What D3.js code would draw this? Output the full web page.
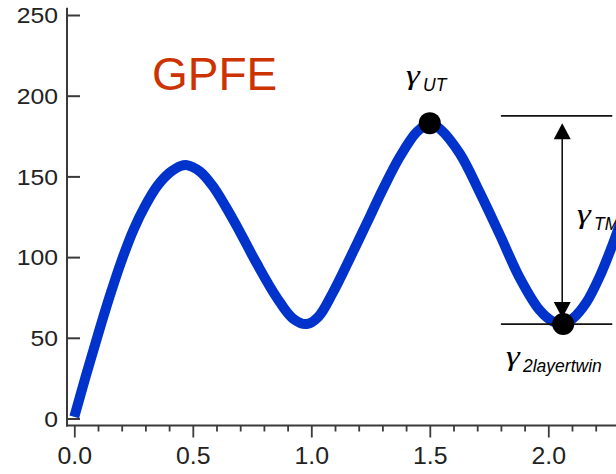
<!DOCTYPE html>
<html>
<head>
<meta charset="utf-8">
<script src="https://cdn.jsdelivr.net/npm/d3@7"></script>
<style>
  html, body { margin: 0; padding: 0; background: #fff; }
  svg { display: block; }
</style>
</head>
<body>
<svg id="chart" width="616" height="474"></svg>
<script>
// Energy profile along the twinning path
const curveX = [0.000, 0.050, 0.100, 0.150, 0.200, 0.250, 0.300, 0.350, 0.400, 0.450, 0.475,
                0.530, 0.584, 0.640, 0.690, 0.770, 0.854, 0.922, 0.981,
                1.030, 1.091, 1.162, 1.234, 1.302, 1.373, 1.445, 1.500,
                1.542, 1.627, 1.711, 1.795, 1.880, 1.964, 2.020, 2.063,
                2.104, 2.161, 2.217, 2.272, 2.330];
const curveY = [1, 27, 52, 76, 98, 117, 132, 144, 152, 156.5, 157,
                153, 144, 131, 118, 96, 75, 62, 58.5,
                63, 78, 99, 121, 142, 162, 177.5, 183,
                179.5, 164, 140, 114, 87, 67, 60, 58.5,
                62, 72, 88, 108, 132];

// Key energies marked on the curve
const gammaUT = { x: 1.50, y: 183 };
const gamma2LayerTwin = { x: 2.063, y: 58.5 };
const barrierTop = 187.5;          // upper reference line
const refLineX = [1.80, 2.27];     // extent of the two reference lines

const xTicks = [0.0, 0.5, 1.0, 1.5, 2.0];
const xMinorTicks = [0.1, 0.2, 0.3, 0.4, 0.6, 0.7, 0.8, 0.9, 1.1, 1.2, 1.3, 1.4,
                     1.6, 1.7, 1.8, 1.9, 2.1, 2.2];
const yTicks = [0, 50, 100, 150, 200, 250];

const svg = d3.select("#chart");
svg.append("rect").attr("width", 616).attr("height", 474).attr("fill", "#fff");

const x = d3.scaleLinear().domain([0, 2]).range([74.3, 548.3]);
const y = d3.scaleLinear().domain([0, 250]).range([418.5, 15]);

const axisX0 = 67, axisY0 = 425.5;
const axisColor = "#3a3a3a";
const labelColor = "#222";

// frame lines
svg.append("line")
  .attr("x1", axisX0).attr("x2", axisX0)
  .attr("y1", y(254.5)).attr("y2", axisY0 + 1)
  .attr("stroke", axisColor).attr("stroke-width", 2);
svg.append("line")
  .attr("x1", axisX0 - 1).attr("x2", 616)
  .attr("y1", axisY0).attr("y2", axisY0)
  .attr("stroke", axisColor).attr("stroke-width", 2);

// y axis (ticks point inward)
const ySx = 1.15;
const gy = svg.append("g")
  .attr("transform", `translate(${axisX0},0)`)
  .call(d3.axisLeft(y).tickValues(yTicks).tickSize(-13).tickPadding(9));
gy.select(".domain").remove();
gy.selectAll(".tick line").attr("stroke", axisColor).attr("stroke-width", 2);
gy.selectAll(".tick text")
  .attr("font-family", "'Liberation Sans', Arial, sans-serif")
  .attr("font-size", 21.5)
  .attr("fill", labelColor)
  .attr("x", -9 / ySx)
  .attr("dy", "0.36em")
  .attr("transform", `scale(${ySx},1)`);

// x axis minor ticks
const gxm = svg.append("g")
  .attr("transform", `translate(0,${axisY0})`)
  .call(d3.axisBottom(x).tickValues(xMinorTicks).tickSize(6).tickFormat(""));
gxm.select(".domain").remove();
gxm.selectAll(".tick line").attr("stroke", axisColor).attr("stroke-width", 1.8);

// x axis major ticks and labels
const xSx = 1.08;
const gx = svg.append("g")
  .attr("transform", `translate(0,${axisY0})`)
  .call(d3.axisBottom(x).tickValues(xTicks).tickSize(12).tickPadding(10.5)
        .tickFormat(d3.format(".1f")));
gx.select(".domain").remove();
gx.selectAll(".tick line").attr("stroke", axisColor).attr("stroke-width", 1.8);
gx.selectAll(".tick text")
  .attr("font-family", "'Liberation Sans', Arial, sans-serif")
  .attr("font-size", 23)
  .attr("fill", labelColor)
  .attr("transform", `scale(${xSx},1)`);

// energy curve
const pts = curveX.map((d, i) => [d, curveY[i]]);
svg.append("path")
  .datum(pts)
  .attr("fill", "none")
  .attr("stroke", "#0033cc")
  .attr("stroke-width", 10)
  .attr("stroke-linejoin", "round")
  .attr("d", d3.line().x(d => x(d[0])).y(d => y(d[1])).curve(d3.curveCatmullRom.alpha(0.5)));

// reference lines
[barrierTop, gamma2LayerTwin.y].forEach(v => {
  svg.append("line")
    .attr("x1", x(refLineX[0])).attr("x2", x(refLineX[1]))
    .attr("y1", y(v)).attr("y2", y(v))
    .attr("stroke", "#111").attr("stroke-width", 1.6);
});

// double-headed arrow for the barrier height
const ax = x(gamma2LayerTwin.x) - 1;
const aTop = y(gammaUT.y), aBot = y(gamma2LayerTwin.y) - 6;
const headH = 16, headW = 8.5;
svg.append("line")
  .attr("x1", ax).attr("x2", ax)
  .attr("y1", aTop + headH - 2).attr("y2", aBot - headH + 2)
  .attr("stroke", "#111").attr("stroke-width", 1.6);
svg.append("path")
  .attr("d", `M${ax},${aTop} L${ax - headW},${aTop + headH} L${ax + headW},${aTop + headH} Z`)
  .attr("fill", "#000");
svg.append("path")
  .attr("d", `M${ax},${aBot} L${ax - headW},${aBot - headH} L${ax + headW},${aBot - headH} Z`)
  .attr("fill", "#000");

// marked points
[gammaUT, gamma2LayerTwin].forEach(p => {
  svg.append("circle")
    .attr("cx", x(p.x)).attr("cy", y(p.y)).attr("r", 11)
    .attr("fill", "#000");
});

// title
svg.append("text")
  .attr("x", 152).attr("y", 90)
  .attr("font-family", "'Liberation Sans', Arial, sans-serif")
  .attr("font-size", 46)
  .attr("fill", "#cc3300")
  .text("GPFE");

// gamma labels: wide serif italic gamma with a sans italic subscript
function gammaLabel(xp, yp, sub) {
  const g = svg.append("g").attr("fill", "#000");
  g.append("text")
    .attr("transform", `translate(${xp},${yp}) scale(1.25,1)`)
    .attr("font-family", "'Liberation Serif', 'Times New Roman', serif")
    .attr("font-style", "italic")
    .attr("font-size", 28)
    .text("γ");
  g.append("text")
    .attr("x", xp + 17).attr("y", yp + 7)
    .attr("font-family", "'Liberation Sans', Arial, sans-serif")
    .attr("font-style", "italic")
    .attr("font-size", 17.5)
    .text(sub);
}
gammaLabel(406, 84, "UT");
gammaLabel(577, 223, "TM");
gammaLabel(506, 365, "2layertwin");
</script>
</body>
</html>
